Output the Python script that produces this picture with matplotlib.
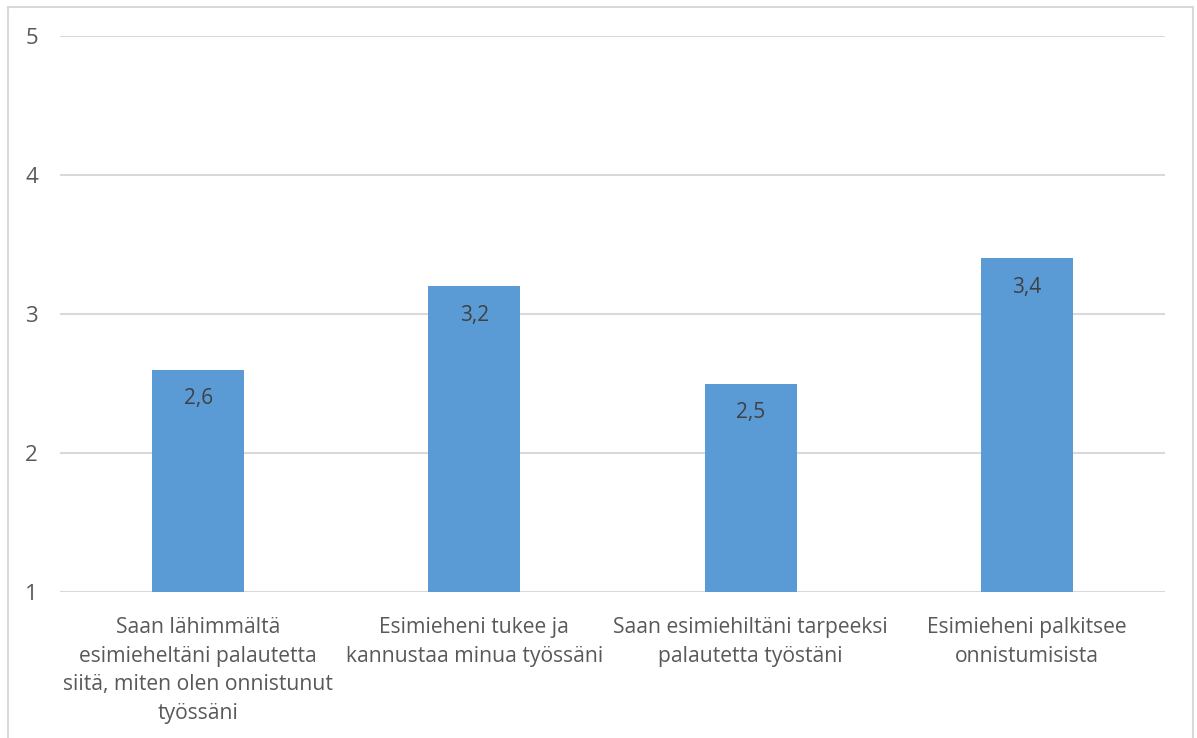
import numpy as np
import matplotlib.pyplot as plt
from matplotlib.patches import Rectangle

plt.rcParams['font.family'] = ['Open Sans', 'DejaVu Sans']

categories = [
    "Saan lähimmältä\nesimieheltäni palautetta\nsiitä, miten olen onnistunut\ntyössäni",
    "Esimieheni tukee ja\nkannustaa minua työssäni",
    "Saan esimiehiltäni tarpeeksi\npalautetta työstäni",
    "Esimieheni palkitsee\nonnistumisista",
]
values = [2.6, 3.2, 2.5, 3.4]
value_labels = ["2,6", "3,2", "2,5", "3,4"]
yticks = [1, 2, 3, 4, 5]

fig = plt.figure(figsize=(11.97, 7.38), dpi=100)
ax = fig.add_axes([60 / 1197, 1 - 592 / 738, 1105 / 1197, 556 / 738])

# outer chart border (bottom runs off the image)
fig.patches.append(Rectangle((8 / 1197, -0.05), 1185 / 1197, 1.05 - 7 / 738,
                             transform=fig.transFigure, fill=False,
                             edgecolor='#d9d9d9', lw=1.5))

x = np.arange(len(categories))
ax.bar(x, np.array(values) - 1, bottom=1, width=0.333, color='#5b9bd5', zorder=2)

for xi, v, lab in zip(x, values, value_labels):
    ax.annotate(lab, (xi, v), xytext=(0, -29), textcoords='offset pixels',
                ha='center', va='center', fontsize=15, color='#404040')

ax.set_xlim(-0.5, len(categories) - 0.5)
ax.set_ylim(1, 5)
ax.set_yticks(yticks)
ax.set_yticklabels([str(t) for t in yticks], fontsize=16, color='#595959')
ax.set_xticks(x)
ax.set_xticklabels(categories, fontsize=15.2, color='#595959', linespacing=1.48)
ax.tick_params(axis='both', length=0)
ax.tick_params(axis='y', pad=16)
ax.tick_params(axis='x', pad=18)
ax.grid(axis='y', color='#d9d9d9', lw=1.5, zorder=0)
for s in ax.spines.values():
    s.set_visible(False)

fig.savefig('out.png', dpi=100)
